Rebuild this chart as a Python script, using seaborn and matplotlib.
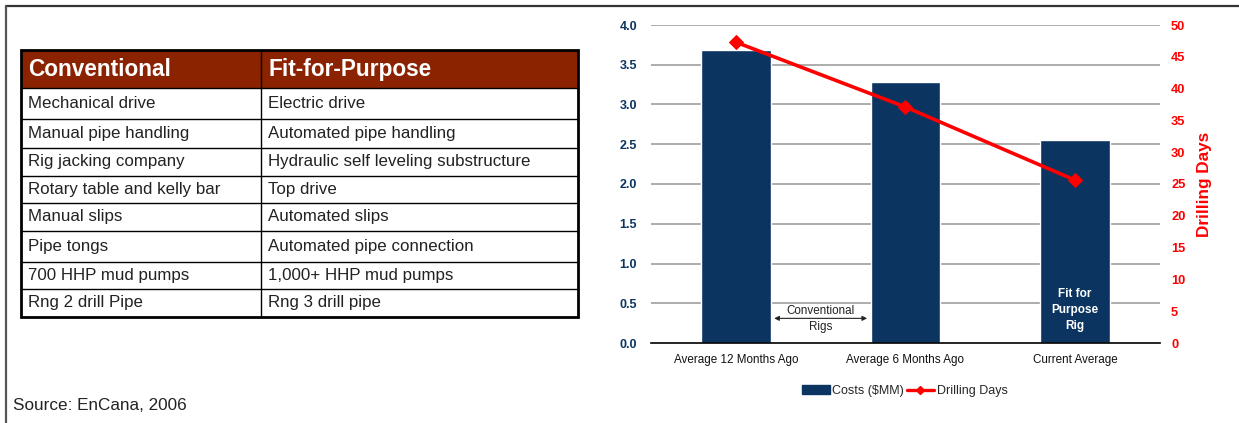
import matplotlib
matplotlib.use("Agg")
import matplotlib.pyplot as plt
import seaborn as sns
import numpy as np
from matplotlib.patches import Rectangle, Patch
from matplotlib.lines import Line2D

# ---- data ----
categories = ["Average 12 Months Ago", "Average 6 Months Ago", "Current Average"]
costs_mm = [3.69, 3.28, 2.55]
drilling_days = [47.3, 37.1, 25.6]

left_ticks = [0.0, 0.5, 1.0, 1.5, 2.0, 2.5, 3.0, 3.5, 4.0]
right_ticks = [0, 5, 10, 15, 20, 25, 30, 35, 40, 45, 50]

table_header = ["Conventional", "Fit-for-Purpose"]
conventional = ["Mechanical drive", "Manual pipe handling", "Rig jacking company",
                "Rotary table and kelly bar", "Manual slips", "Pipe tongs",
                "700 HHP mud pumps", "Rng 2 drill Pipe"]
fit_for_purpose = ["Electric drive", "Automated pipe handling",
                   "Hydraulic self leveling substructure", "Top drive",
                   "Automated slips", "Automated pipe connection",
                   "1,000+ HHP mud pumps", "Rng 3 drill pipe"]

# ---- style ----
sns.set_theme(style="white")
plt.rcParams['font.family'] = ['Liberation Sans', 'DejaVu Sans']

NAVY = "#0B3461"
RED = "#FF0000"
W, H = 1239, 423
fig = plt.figure(figsize=(W / 100, H / 100), dpi=100)
fig.patch.set_facecolor("white")

# overlay axes in pixel coordinates for table / frame
ov = fig.add_axes([0, 0, 1, 1])
ov.set_xlim(0, W)
ov.set_ylim(H, 0)
ov.axis("off")

# frame
ov.plot([6, W], [6, 6], color="#333333", lw=1.6)
ov.plot([6, 6], [6, H], color="#555555", lw=1.6)

# table
tx0, tmid, tx1 = 20.5, 261, 578
row_edges = [50, 87.7, 119, 147.7, 175.7, 203.3, 230.7, 261.7, 289, 316.7]
ov.add_patch(Rectangle((tx0, row_edges[0]), tx1 - tx0, row_edges[1] - row_edges[0],
                       facecolor="#8B2200", edgecolor="none", zorder=1))
for y in row_edges[1:-1]:
    ov.plot([tx0, tx1], [y, y], color="black", lw=1.0, zorder=2)
ov.plot([tmid, tmid], [row_edges[0], row_edges[-1]], color="black", lw=1.0, zorder=2)
ov.add_patch(Rectangle((tx0, row_edges[0]), tx1 - tx0, row_edges[-1] - row_edges[0],
                       facecolor="none", edgecolor="black", lw=2.0, zorder=3))
hy = (row_edges[0] + row_edges[1]) / 2
ov.text(28, hy + 1, table_header[0], color="white", fontsize=16.3, fontweight="bold",
        va="center", ha="left")
ov.text(268, hy + 1, table_header[1], color="white", fontsize=16.3, fontweight="bold",
        va="center", ha="left")
for i, (a, b) in enumerate(zip(conventional, fit_for_purpose)):
    yc = (row_edges[i + 1] + row_edges[i + 2]) / 2
    ov.text(28, yc, a, color="#222222", fontsize=12.2, va="center", ha="left")
    ov.text(268, yc, b, color="#222222", fontsize=12.2, va="center", ha="left")

ov.text(13, 405, "Source: EnCana, 2006", color="#222222", fontsize=12.3,
        va="center", ha="left")

# ---- chart ----
ax = fig.add_axes([651 / W, (H - 343) / H, 509 / W, 318 / H])
ax.set_facecolor("none")
x = np.arange(len(categories))
sns.barplot(x=x, y=costs_mm, color=NAVY, width=0.41, saturation=1, ax=ax,
            native_scale=True, zorder=3)
ax.set_xlim(-0.5, 2.5)
ax.set_ylim(0, 4.0)
ax.set_yticks(left_ticks)
ax.set_yticklabels([f"{v:.1f}" for v in left_ticks], color=NAVY, fontweight="bold",
                   fontsize=9)
ax.tick_params(axis="y", length=0, pad=10)
for v in left_ticks[1:]:
    ax.axhline(v, color="#A6A6A6", lw=1.3, zorder=1)
ax.set_xticks([-0.5, 0.5, 1.5, 2.5], minor=False)
ax.set_xticklabels([])
ax.set_xticks(x, minor=True)
ax.set_xticklabels(categories, minor=True, fontsize=8.4, color="#111111")
ax.tick_params(axis="x", which="major", direction="inout", length=9, width=1.0,
               color="black")
ax.tick_params(axis="x", which="minor", length=0, pad=8)
for s in ["left", "right", "top"]:
    ax.spines[s].set_visible(False)
ax.spines["bottom"].set_color("black")
ax.spines["bottom"].set_linewidth(1.2)
ax.spines["bottom"].set_zorder(5)
ax.set_xlabel("")
ax.set_ylabel("")

ax2 = ax.twinx()
sns.lineplot(x=x, y=drilling_days, color=RED, lw=2.6, marker="D", markersize=7.5,
             markeredgecolor=RED, ax=ax2, zorder=6)
ax2.set_ylim(0, 50)
ax2.set_yticks(right_ticks)
ax2.set_yticklabels([str(v) for v in right_ticks], color=RED, fontweight="bold",
                    fontsize=9.3)
ax2.tick_params(axis="y", length=0, pad=8)
for s in ["left", "right", "top", "bottom"]:
    ax2.spines[s].set_visible(False)
ax2.set_ylabel("Drilling Days", color=RED, fontweight="bold", fontsize=12.3, labelpad=8)

# annotations
ax.annotate("", xy=(0.21, 0.31), xytext=(0.79, 0.31),
            arrowprops=dict(arrowstyle="<|-|>", color="#222222", lw=0.8,
                            mutation_scale=7), zorder=6)
ax.text(0.5, 0.40, "Conventional", ha="center", va="center", fontsize=8.4, color="#222222",
        zorder=6)
ax.text(0.5, 0.20, "Rigs", ha="center", va="center", fontsize=8.4, color="#222222", zorder=6)
ax.text(2, 0.41, "Fit for\nPurpose\nRig", ha="center", va="center", fontsize=8.5,
        color="white", fontweight="bold", linespacing=1.45, zorder=6)

# legend
handles = [Patch(facecolor=NAVY, edgecolor=NAVY, label="Costs ($MM)"),
           Line2D([0], [0], color=RED, lw=2.4, marker="D", markersize=4,
                  label="Drilling Days")]
fig.legend(handles=handles, loc="center", bbox_to_anchor=(905 / W, 1 - 391 / H),
           ncol=2, frameon=False, fontsize=9, handlelength=2.2, handletextpad=0.2,
           columnspacing=0.2)

fig.savefig("out.png", dpi=100, facecolor="white")
